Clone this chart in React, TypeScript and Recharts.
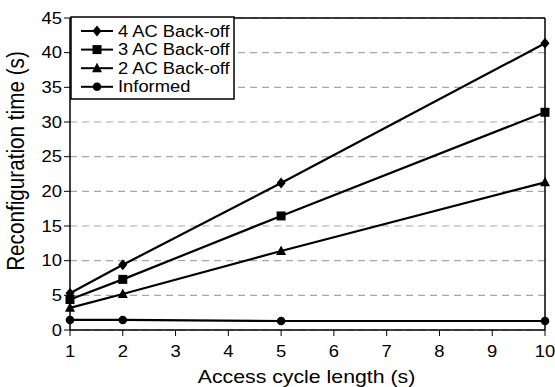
import React from 'react';
import { LineChart, Line, XAxis, YAxis, CartesianGrid, ReferenceLine } from 'recharts';

const xValues = [1, 2, 5, 10];
const ac4 = [5.3, 9.4, 21.2, 41.35];
const ac3 = [4.4, 7.3, 16.45, 31.4];
const ac2 = [3.2, 5.2, 11.4, 21.3];
const informed = [1.45, 1.45, 1.3, 1.3];
const seriesNames = ['4 AC Back-off', '3 AC Back-off', '2 AC Back-off', 'Informed'];
const xTicks = [1, 2, 3, 4, 5, 6, 7, 8, 9, 10];
const yTicks = [0, 5, 10, 15, 20, 25, 30, 35, 40, 45];

const data = xValues.map((x, i) => ({ x, ac4: ac4[i], ac3: ac3[i], ac2: ac2[i], informed: informed[i] }));

const FONT = '"Liberation Sans", Arial, sans-serif';
const SX = 1.18;

type MP = { cx?: number; cy?: number };
const Diamond = ({ cx = 0, cy = 0 }: MP) => (
  <path d={`M${cx},${cy - 5.5} L${cx + 4.5},${cy} L${cx},${cy + 5.5} L${cx - 4.5},${cy} Z`} fill="#000" />
);
const Square = ({ cx = 0, cy = 0 }: MP) => <rect x={cx - 4.5} y={cy - 4.5} width={9} height={9} fill="#000" />;
const Triangle = ({ cx = 0, cy = 0 }: MP) => (
  <path d={`M${cx},${cy - 5.5} L${cx + 5},${cy + 4} L${cx - 5},${cy + 4} Z`} fill="#000" />
);
const Circle = ({ cx = 0, cy = 0 }: MP) => <circle cx={cx} cy={cy} r={4.3} fill="#000" />;

const markers = [Diamond, Square, Triangle, Circle];

const mkDot = (M: any) => (props: any) => <M key={`d-${props.index}-${props.dataKey}`} cx={props.cx} cy={props.cy} />;

const YTick = (props: any) => {
  const { x, y, payload } = props;
  return (
    <g transform={`translate(${x},${y}) scale(${SX},1)`}>
      <text x={0} y={0} dy={5.6} textAnchor="end" fontFamily={FONT} fontSize={15.6} fill="#000">
        {payload.value}
      </text>
    </g>
  );
};

const XTick = (props: any) => {
  const { x, y, payload } = props;
  return (
    <g transform={`translate(${x},${y}) scale(${SX},1)`}>
      <text x={0} y={0} dy={19.5} textAnchor="middle" fontFamily={FONT} fontSize={15.6} fill="#000">
        {payload.value}
      </text>
    </g>
  );
};

const XLabel = (props: any) => {
  const vb = props.viewBox || {};
  const cx = (vb.x || 0) + (vb.width || 0) / 2;
  return (
    <g transform={`translate(${cx - 1},383) scale(1.17,1)`}>
      <text x={0} y={0} textAnchor="middle" fontFamily={FONT} fontSize={18.2} fill="#000">
        Access cycle length (s)
      </text>
    </g>
  );
};

const YLabel = () => (
  <g transform={`translate(24,161) rotate(-90) scale(1,1.12)`}>
    <text x={0} y={0} textAnchor="middle" fontFamily={FONT} fontSize={20.7} fill="#000">
      Reconfiguration time (s)
    </text>
  </g>
);

const LegendBox = () => (
  <svg width={165} height={84} style={{ position: 'absolute', left: 70, top: 16 }}>
    <rect x={1} y={1} width={163} height={82} fill="#fff" stroke="#000" strokeWidth={1.5} />
    {seriesNames.map((name, i) => {
      const cy = 15 + i * 18.6;
      const M = markers[i];
      return (
        <g key={name}>
          <line x1={11} x2={43} y1={cy} y2={cy} stroke="#000" strokeWidth={2} />
          <M cx={27} cy={cy} />
          <g transform={`translate(48,${cy + 5.6}) scale(1.16,1)`}>
            <text x={0} y={0} fontFamily={FONT} fontSize={15.8} fill="#000">
              {name}
            </text>
          </g>
        </g>
      );
    })}
  </svg>
);

const keys = ['ac4', 'ac3', 'ac2', 'informed'];

export default function App() {
  return (
    <div style={{ position: 'absolute', left: 0, top: 0, width: 555, height: 387, background: '#fff' }}>
      <LineChart width={555} height={387} data={data} margin={{ top: 18, right: 10, left: 0, bottom: 0 }}>
        <CartesianGrid vertical={false} stroke="#a6a6a6" strokeDasharray="7 5" strokeWidth={1.2} />
        <XAxis
          dataKey="x"
          type="number"
          domain={[1, 10]}
          ticks={xTicks}
          interval={0}
          height={57}
          tickSize={6}
          tick={<XTick />}
          axisLine={{ stroke: '#000', strokeWidth: 1.5 }}
          tickLine={{ stroke: '#000', strokeWidth: 1 }}
          label={<XLabel />}
        />
        <YAxis
          type="number"
          domain={[0, 45]}
          ticks={yTicks}
          interval={0}
          width={70}
          tickSize={6}
          tick={<YTick />}
          axisLine={{ stroke: '#000', strokeWidth: 1.5 }}
          tickLine={{ stroke: '#000', strokeWidth: 1 }}
          label={<YLabel />}
        />
        <ReferenceLine y={45} stroke="#000" strokeWidth={1.5} />
        <ReferenceLine x={10} stroke="#000" strokeWidth={1.5} />
        {keys.map((k, i) => (
          <Line
            key={k}
            dataKey={k}
            name={seriesNames[i]}
            type="linear"
            stroke="#000"
            strokeWidth={2.2}
            dot={mkDot(markers[i])}
            activeDot={false}
            isAnimationActive={false}
          />
        ))}
      </LineChart>
      <LegendBox />
    </div>
  );
}
